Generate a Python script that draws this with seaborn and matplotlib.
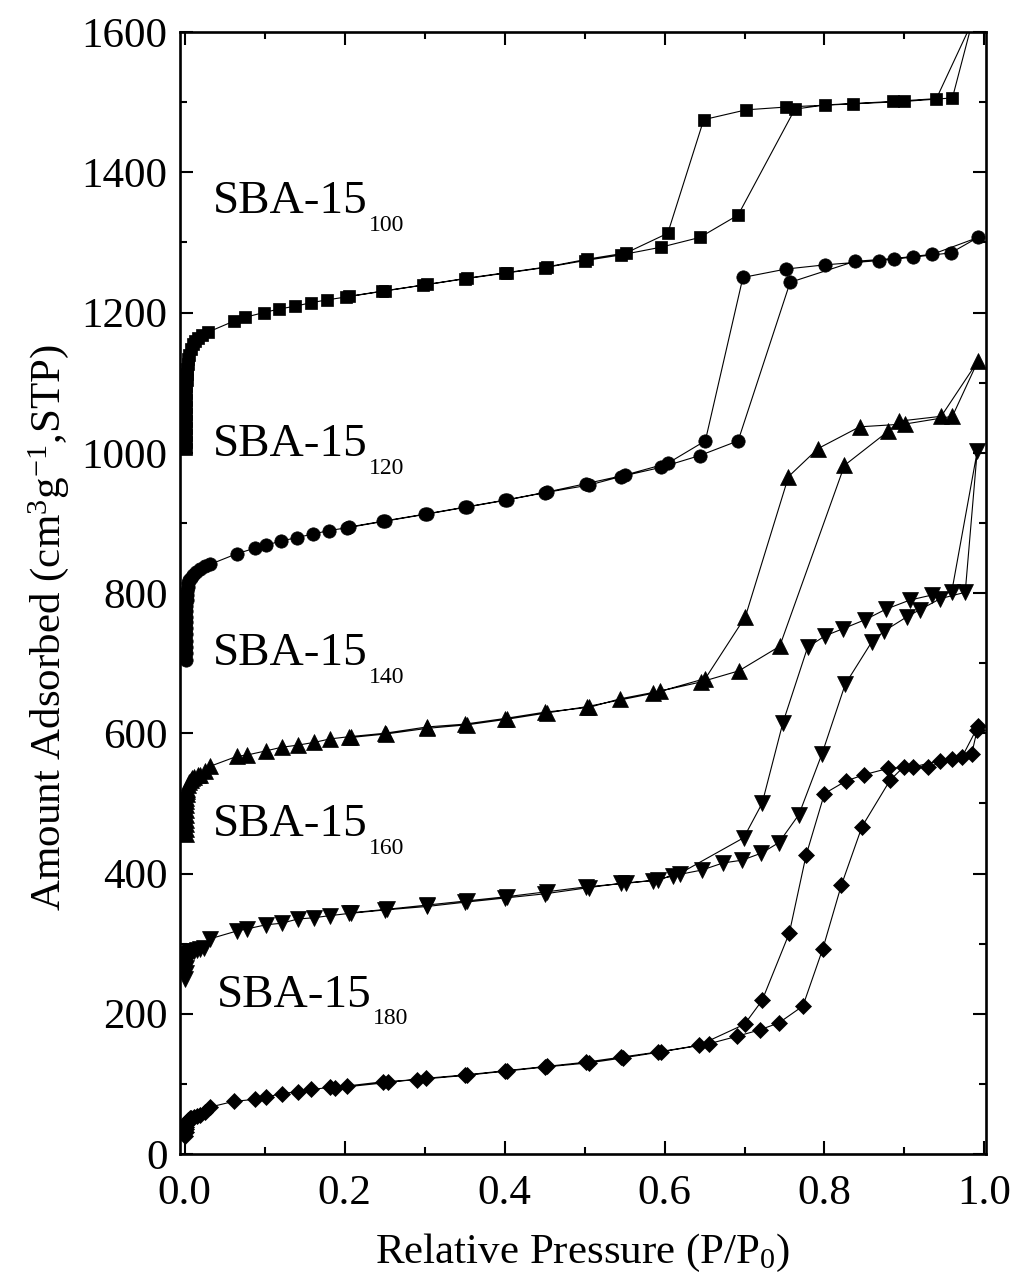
"""N2 sorption isotherms of SBA-15 aged at different temperatures."""
import matplotlib.pyplot as plt
import seaborn as sns

# --- data -----------------------------------------------------------------
# SBA-15_100, squares
p_ads_100 = [0.001, 0.0011, 0.0012, 0.0013, 0.0014, 0.0015, 0.0016, 0.0017, 0.0018,
             0.002, 0.0022, 0.0025, 0.0029, 0.0034, 0.0042, 0.0055, 0.0075, 0.010,
             0.013, 0.017, 0.022, 0.029, 0.062, 0.075, 0.099, 0.118, 0.138, 0.158,
             0.178, 0.201, 0.246, 0.298, 0.35, 0.40, 0.45, 0.50, 0.545, 0.595, 0.644,
             0.692, 0.763, 0.801, 0.836, 0.886, 0.940, 0.985]
v_ads_100 = [1005, 1015, 1025, 1035, 1045, 1055, 1065, 1075, 1085, 1095, 1104, 1112,
             1120, 1127, 1133, 1140, 1148, 1155, 1160, 1164, 1168, 1172, 1188, 1193,
             1200, 1205, 1209, 1214, 1218, 1222, 1230, 1239, 1248, 1256, 1264, 1274,
             1282, 1293, 1307, 1339, 1490, 1496, 1498, 1501, 1505, 1615]
p_des_100 = [0.960, 0.900, 0.752, 0.702, 0.649, 0.604, 0.552, 0.503, 0.453, 0.403,
             0.353, 0.303, 0.250, 0.205]
v_des_100 = [1506, 1501, 1493, 1489, 1475, 1313, 1285, 1276, 1265, 1257, 1249, 1240,
             1231, 1223]

# SBA-15_120, circles
p_ads_120 = [0.001, 0.0011, 0.0012, 0.0013, 0.0014, 0.0015, 0.0016, 0.0017, 0.0018,
             0.002, 0.0022, 0.0025, 0.0029, 0.0034, 0.0042, 0.0055, 0.0075, 0.010,
             0.014, 0.019, 0.025, 0.032, 0.065, 0.088, 0.101, 0.120, 0.140, 0.160,
             0.180, 0.203, 0.248, 0.300, 0.35, 0.40, 0.45, 0.506, 0.545, 0.595, 0.644,
             0.692, 0.757, 0.838, 0.887, 0.935, 0.992]
v_ads_120 = [705, 714, 723, 732, 741, 750, 758, 766, 774, 782, 790, 797, 803, 809, 814,
             818, 822, 826, 830, 834, 838, 841, 856, 864, 868, 874, 879, 884, 889, 893,
             902, 912, 922, 932, 943, 954, 966, 979, 996, 1017, 1243, 1273, 1277, 1283,
             1307]
p_des_120 = [0.958, 0.911, 0.868, 0.801, 0.752, 0.698, 0.651, 0.604, 0.550, 0.502,
             0.453, 0.403, 0.353, 0.303, 0.251, 0.205]
v_des_120 = [1285, 1279, 1274, 1268, 1262, 1250, 1017, 985, 968, 956, 944, 933, 923,
             913, 903, 894]

# SBA-15_140, triangles
p_ads_140 = [0.001, 0.0011, 0.0012, 0.0013, 0.0014, 0.0015, 0.0016, 0.0018, 0.002,
             0.0023, 0.0027, 0.0033, 0.0042, 0.0055, 0.0075, 0.009, 0.012, 0.016, 0.019,
             0.025, 0.032, 0.065, 0.078, 0.102, 0.121, 0.141, 0.162, 0.182, 0.205,
             0.250, 0.303, 0.35, 0.40, 0.45, 0.506, 0.544, 0.594, 0.645, 0.693, 0.744,
             0.825, 0.880, 0.893, 0.946, 0.992]
v_ads_140 = [456, 463, 470, 477, 484, 491, 497, 503, 508, 513, 517, 521, 526, 530, 533,
             536, 538, 540, 540, 546, 553, 567, 569, 575, 580, 583, 587, 592, 595, 600,
             609, 613, 621, 630, 637, 649, 660, 673, 689, 724, 982, 1031, 1045, 1052,
             1131]
p_des_140 = [0.960, 0.901, 0.844, 0.792, 0.755, 0.701, 0.651, 0.586, 0.503, 0.453,
             0.403, 0.353, 0.303, 0.252, 0.208]
v_des_140 = [1052, 1041, 1037, 1006, 966, 766, 678, 657, 638, 629, 620, 612, 607, 599,
             594]

# SBA-15_160, inverted triangles
p_ads_160 = [0.0008, 0.001, 0.0013, 0.0016, 0.002, 0.0025, 0.0032, 0.004, 0.005,
             0.0065, 0.0085, 0.011, 0.015, 0.019, 0.024, 0.032, 0.065, 0.078, 0.102,
             0.121, 0.141, 0.162, 0.182, 0.205, 0.250, 0.303, 0.35, 0.40, 0.45, 0.506,
             0.545, 0.586, 0.611, 0.647, 0.673, 0.697, 0.721, 0.743, 0.768, 0.797, 0.826,
             0.859, 0.875, 0.903, 0.919, 0.945, 0.976, 0.991]
v_ads_160 = [250, 258, 265, 271, 276, 280, 283, 285, 287, 288, 289, 290, 291, 292, 294,
             307, 318, 321, 327, 329, 335, 337, 340, 343, 348, 353, 359, 365, 371, 380,
             386, 390, 397, 405, 415, 419, 429, 444, 484, 571, 670, 730, 746, 766, 776,
             792, 801, 1002]
p_des_160 = [0.959, 0.934, 0.907, 0.877, 0.851, 0.823, 0.801, 0.779, 0.748, 0.722,
             0.699, 0.619, 0.592, 0.552, 0.502, 0.453, 0.403, 0.353, 0.303, 0.253, 0.208]
v_des_160 = [801, 797, 790, 777, 762, 749, 739, 723, 615, 500, 451, 400, 391, 386, 381,
             374, 367, 361, 355, 349, 344]

# SBA-15_180, diamonds
p_ads_180 = [0.0008, 0.001, 0.0013, 0.0016, 0.002, 0.0026, 0.0034, 0.0045, 0.006,
             0.008, 0.011, 0.015, 0.019, 0.025, 0.032, 0.061, 0.088, 0.101, 0.121, 0.141,
             0.158, 0.182, 0.203, 0.248, 0.290, 0.35, 0.40, 0.45, 0.506, 0.548, 0.592,
             0.655, 0.691, 0.719, 0.743, 0.773, 0.798, 0.821, 0.847, 0.882, 0.899, 0.930,
             0.959, 0.984, 0.991]
v_ads_180 = [26, 31, 35, 39, 42, 45, 47, 49, 51, 52, 53, 54, 56, 60, 67, 75, 78, 81, 86,
             89, 92, 95, 97, 103, 106, 112, 118, 124, 130, 137, 145, 157, 168, 177, 187,
             211, 293, 383, 467, 533, 552, 552, 563, 570, 605]
p_des_180 = [0.992, 0.972, 0.945, 0.911, 0.880, 0.850, 0.827, 0.800, 0.777, 0.756,
             0.722, 0.700, 0.643, 0.595, 0.545, 0.502, 0.453, 0.403, 0.353, 0.302, 0.254,
             0.188]
v_des_180 = [610, 566, 561, 552, 550, 541, 532, 514, 426, 315, 219, 185, 155, 146, 138,
             131, 125, 119, 113, 108, 102, 94]

names = ["100", "120", "140", "160", "180"]
ads_p = [p_ads_100, p_ads_120, p_ads_140, p_ads_160, p_ads_180]
ads_v = [v_ads_100, v_ads_120, v_ads_140, v_ads_160, v_ads_180]
des_p = [p_des_100, p_des_120, p_des_140, p_des_160, p_des_180]
des_v = [v_des_100, v_des_120, v_des_140, v_des_160, v_des_180]

# --- style ------------------------------------------------------------------
markers = ["s", "o", "^", "v", "D"]
msizes = [8.8, 9.6, 11.5, 11.5, 7.8]
label_pos = [(0.035, 1342), (0.035, 995), (0.035, 697), (0.035, 453), (0.040, 210)]

sns.set_style("ticks")
plt.rcParams["font.family"] = ["Liberation Serif", "DejaVu Serif"]
plt.rcParams["mathtext.fontset"] = "custom"
plt.rcParams["mathtext.rm"] = "Liberation Serif"
plt.rcParams["mathtext.it"] = "Liberation Serif:italic"
for key in ["text.color", "axes.labelcolor", "xtick.color", "ytick.color"]:
    plt.rcParams[key] = "black"

fig = plt.figure(figsize=(10.13, 12.86), dpi=100)
ax = fig.add_axes([180 / 1013, 132 / 1286, 806 / 1013, 1122 / 1286])

for i, name in enumerate(names):
    # adsorption branch up, desorption branch back down: one polyline
    px = list(ads_p[i]) + list(des_p[i])
    vy = list(ads_v[i]) + list(des_v[i])
    sns.lineplot(x=px, y=vy, ax=ax, sort=False, estimator=None, color="k",
                 linewidth=0.8, marker=markers[i], markersize=msizes[i],
                 markeredgecolor="k", markeredgewidth=0.5, markerfacecolor="k")

    lx, ly = label_pos[i]
    t = ax.text(lx, ly, "SBA-15", fontsize=34, ha="left", va="baseline")
    ax.annotate(name, xy=(1, 0), xycoords=t, xytext=(1, -5.5),
                textcoords="offset points", fontsize=17, ha="left", va="baseline")

ax.set_xlim(-0.006, 1.002)
ax.set_ylim(0, 1600)
ax.set_xticks([0.0, 0.2, 0.4, 0.6, 0.8, 1.0])
ax.set_xticks([0.1, 0.3, 0.5, 0.7, 0.9], minor=True)
ax.set_yticks(range(0, 1601, 200))
ax.set_yticks(range(100, 1600, 200), minor=True)
ax.set_xticklabels(["0.0", "0.2", "0.4", "0.6", "0.8", "1.0"])

ax.tick_params(which="both", direction="in", top=True, right=True, width=1.5,
               color="k", labelsize=31)
ax.tick_params(which="major", length=9.4)
ax.tick_params(which="minor", length=5)
ax.tick_params(axis="x", pad=15)
ax.tick_params(axis="y", pad=9)
for s in ax.spines.values():
    s.set_linewidth(1.9)
    s.set_color("k")

ax.set_xlabel("Relative Pressure (P/P$_0$)", fontsize=31)
ax.set_ylabel("Amount Adsorbed (cm$^3$g$^{-1}$,STP)", fontsize=31)
ax.xaxis.set_label_coords(0.5, -0.0695)
ax.yaxis.set_label_coords(-0.135, 0.469)

fig.savefig("out.png", dpi=100)
